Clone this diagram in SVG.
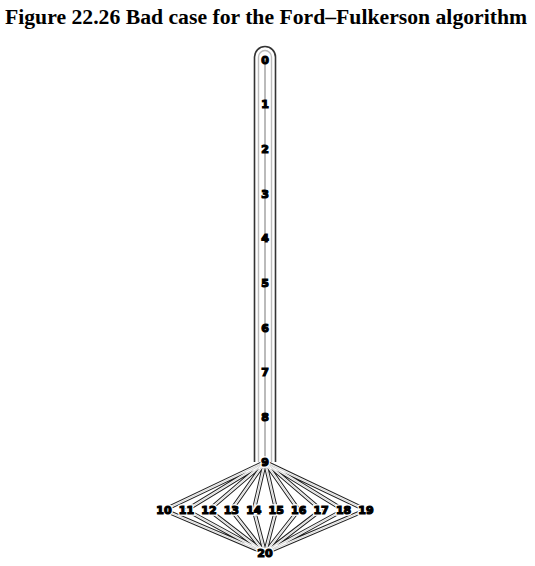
<svg xmlns="http://www.w3.org/2000/svg" width="535" height="566" viewBox="0 0 535 566">
<style>
.title{font-family:"Liberation Serif",serif;font-weight:bold;font-size:21.7px;fill:#000}
.lbl{font-family:"DejaVu Sans",sans-serif;font-weight:bold;font-size:11px;fill:#000;stroke:#000;stroke-width:1.2;text-anchor:middle;dominant-baseline:central}
.halo{font-family:"DejaVu Sans",sans-serif;font-weight:bold;font-size:11px;fill:#fff;stroke:#fff;stroke-width:3.5;text-anchor:middle;dominant-baseline:central}
.eo{stroke:#222;stroke-width:4.2;fill:none}
.ei{stroke:#fff;stroke-width:2.2;fill:none}
.ec{stroke:#bbb;stroke-width:0.6;fill:none}
</style>
<rect width="535" height="566" fill="#fff"/>
<text class="title" x="5" y="24">Figure 22.26 Bad case for the Ford–Fulkerson algorithm</text>
<g id="connectors">
<path d="M254.5,462 V57 A10.5,10.5 0 0 1 275.5,57 V462" stroke="#333" stroke-width="1.6" fill="none"/>
<path d="M258.5,462 V57 A6.5,6.5 0 0 1 271.5,57 V462" stroke="#bbb" stroke-width="1.4" fill="none"/>
<line x1="265" y1="60" x2="265" y2="462" stroke="#bbb" stroke-width="2"/>
<g id="fan">
<path class="eo" d="M265,462 L164,510 L265,553 M265,462 L186.4,510 L265,553 M265,462 L208.9,510 L265,553 M265,462 L231.3,510 L265,553 M265,462 L253.8,510 L265,553 M265,462 L276.2,510 L265,553 M265,462 L298.7,510 L265,553 M265,462 L321.1,510 L265,553 M265,462 L343.6,510 L265,553 M265,462 L366,510 L265,553"/>
<path class="ei" d="M265,462 L164,510 L265,553 M265,462 L186.4,510 L265,553 M265,462 L208.9,510 L265,553 M265,462 L231.3,510 L265,553 M265,462 L253.8,510 L265,553 M265,462 L276.2,510 L265,553 M265,462 L298.7,510 L265,553 M265,462 L321.1,510 L265,553 M265,462 L343.6,510 L265,553 M265,462 L366,510 L265,553"/>
<path class="ec" d="M265,462 L164,510 L265,553 M265,462 L186.4,510 L265,553 M265,462 L208.9,510 L265,553 M265,462 L231.3,510 L265,553 M265,462 L253.8,510 L265,553 M265,462 L276.2,510 L265,553 M265,462 L298.7,510 L265,553 M265,462 L321.1,510 L265,553 M265,462 L343.6,510 L265,553 M265,462 L366,510 L265,553"/>
</g>
</g>
<g id="n0"><text class="lbl" x="265" y="60">0</text></g>
<g id="n1"><text class="lbl" x="265" y="104.7">1</text></g>
<g id="n2"><text class="lbl" x="265" y="149.3">2</text></g>
<g id="n3"><text class="lbl" x="265" y="194">3</text></g>
<g id="n4"><text class="lbl" x="265" y="238.7">4</text></g>
<g id="n5"><text class="lbl" x="265" y="283.3">5</text></g>
<g id="n6"><text class="lbl" x="265" y="328">6</text></g>
<g id="n7"><text class="lbl" x="265" y="372.7">7</text></g>
<g id="n8"><text class="lbl" x="265" y="417.3">8</text></g>
<g id="n9"><text class="halo" x="265" y="462">9</text><text class="lbl" x="265" y="462">9</text></g>
<g id="n10"><text class="halo" x="164" y="510">10</text><text class="lbl" x="164" y="510">10</text></g>
<g id="n11"><text class="halo" x="186.4" y="510">11</text><text class="lbl" x="186.4" y="510">11</text></g>
<g id="n12"><text class="halo" x="208.9" y="510">12</text><text class="lbl" x="208.9" y="510">12</text></g>
<g id="n13"><text class="halo" x="231.3" y="510">13</text><text class="lbl" x="231.3" y="510">13</text></g>
<g id="n14"><text class="halo" x="253.8" y="510">14</text><text class="lbl" x="253.8" y="510">14</text></g>
<g id="n15"><text class="halo" x="276.2" y="510">15</text><text class="lbl" x="276.2" y="510">15</text></g>
<g id="n16"><text class="halo" x="298.7" y="510">16</text><text class="lbl" x="298.7" y="510">16</text></g>
<g id="n17"><text class="halo" x="321.1" y="510">17</text><text class="lbl" x="321.1" y="510">17</text></g>
<g id="n18"><text class="halo" x="343.6" y="510">18</text><text class="lbl" x="343.6" y="510">18</text></g>
<g id="n19"><text class="halo" x="366" y="510">19</text><text class="lbl" x="366" y="510">19</text></g>
<g id="n20"><text class="halo" x="265" y="553">20</text><text class="lbl" x="265" y="553">20</text></g>
</svg>
